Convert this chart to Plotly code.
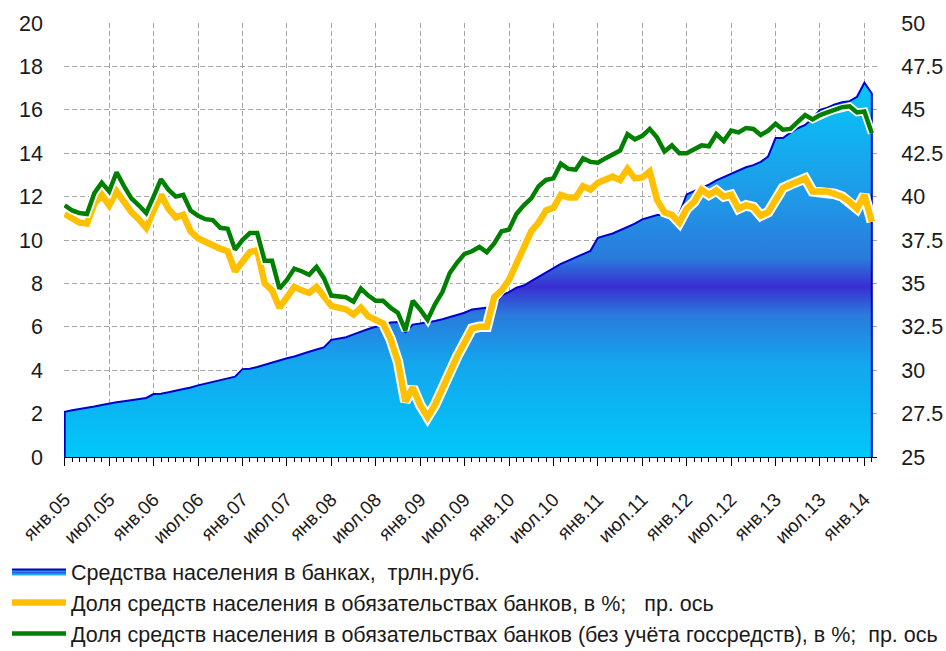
import plotly.graph_objects as go

# ---- data ----
tick_labels = ["янв.05", "июл.05", "янв.06", "июл.06", "янв.07", "июл.07", "янв.08",
               "июл.08", "янв.09", "июл.09", "янв.10", "июл.10", "янв.11", "июл.11",
               "янв.12", "июл.12", "янв.13", "июл.13", "янв.14"]

# household deposits, trn rub (left axis), monthly Jan-05 .. Feb-14
deposits = [2.08, 2.15, 2.20, 2.27, 2.33, 2.40, 2.47, 2.52, 2.57, 2.62, 2.67, 2.72,
            2.90, 2.92, 2.98, 3.05, 3.12, 3.20, 3.30, 3.38, 3.45, 3.52, 3.60, 3.70,
            4.05, 4.07, 4.15, 4.25, 4.37, 4.47, 4.55, 4.63, 4.75, 4.85, 4.95, 5.05,
            5.40, 5.45, 5.52, 5.65, 5.78, 5.90, 6.00, 6.08, 6.20, 6.22, 5.75, 6.10,
            6.15, 6.20, 6.27, 6.35, 6.45, 6.55, 6.65, 6.80, 6.85, 6.88, 6.92, 7.45,
            7.60, 7.80, 7.90, 8.10, 8.30, 8.50, 8.70, 8.90, 9.05, 9.20, 9.35, 9.50,
            10.10, 10.20, 10.30, 10.45, 10.60, 10.75, 10.95, 11.05, 11.15, 11.15, 11.15, 11.20,
            12.10, 12.25, 12.40, 12.55, 12.75, 12.90, 13.05, 13.20, 13.35, 13.45, 13.60, 13.85,
            14.70, 14.70, 14.95, 15.15, 15.30, 15.60, 16.00, 16.10, 16.25, 16.35, 16.40, 16.60,
            17.25, 16.75]

# share of household funds in bank liabilities, % (right axis)
share = [39.0, 38.7, 38.5, 38.45, 39.6, 40.1, 39.5, 40.3, 39.7, 39.1, 38.7, 38.2,
         39.2, 40.1, 39.3, 38.8, 38.95, 38.0, 37.6, 37.35, 37.2, 37.0, 36.85, 35.7,
         36.2, 36.8, 36.9, 35.0, 34.6, 33.6, 34.2, 34.8, 34.6, 34.45, 34.8, 34.3,
         33.7, 33.6, 33.5, 33.2, 33.6, 33.1, 32.9, 32.7, 31.8, 30.5, 28.2, 29.0,
         28.0, 27.3, 28.0, 29.0, 30.0, 30.8, 31.6, 32.4, 32.5, 32.5, 34.2, 34.6,
         35.2, 36.2, 37.2, 38.0, 38.5, 39.2, 39.35, 40.1, 39.95, 39.95, 40.6, 40.4,
         40.8, 41.0, 41.15, 40.95, 41.6, 41.05, 41.1, 41.45, 39.8, 39.1, 38.95, 38.5,
         39.3, 39.7, 40.4, 40.1, 40.35, 40.0, 40.1, 39.3, 39.5, 39.4, 38.9, 39.1,
         39.8, 40.5, 40.7, 40.85, 41.05, 40.3, 40.3, 40.3, 40.15, 40.0, 39.7, 39.3,
         40.1, 38.55]

# same share excluding state funds, % (right axis)
share_ex = [39.5, 39.2, 39.05, 39.0, 40.2, 40.8, 40.3, 41.4, 40.6, 39.9, 39.5, 39.05,
            40.0, 41.0, 40.4, 40.0, 40.1, 39.2, 38.9, 38.7, 38.65, 38.2, 38.15, 36.95,
            37.5, 37.9, 37.9, 36.3, 36.3, 34.7, 35.2, 35.85, 35.7, 35.5, 35.95, 35.3,
            34.3, 34.25, 34.2, 33.95, 34.7, 34.3, 34.0, 34.0, 33.6, 33.3, 32.3, 34.0,
            33.5, 32.9, 33.8, 34.5, 35.6, 36.2, 36.7, 36.85, 37.1, 36.8, 37.3, 38.0,
            38.1, 39.0, 39.5, 39.9, 40.6, 40.96, 41.05, 41.9, 41.6, 41.55, 42.2, 42.0,
            41.95, 42.2, 42.4, 42.65, 43.6, 43.3, 43.5, 43.9, 43.4, 42.6, 42.95, 42.5,
            42.5, 42.7, 42.95, 42.9, 43.6, 43.2, 43.8, 43.7, 43.95, 43.9, 43.55, 43.8,
            44.2, 43.85, 43.9, 44.3, 44.7, 44.45, 44.7, 44.85, 45.0, 45.15, 45.2, 44.85,
            44.9, 43.65]

names = ["Средства населения в банках,  трлн.руб.",
         "Доля средств населения в обязательствах банков, в %;   пр. ось",
         "Доля средств населения в обязательствах банков (без учёта госсредств), в %;  пр. ось"]

# ---- figure ----
n = len(deposits)
x = list(range(n))
tick_pos = list(range(0, 6 * len(tick_labels), 6))

# area with closed left/right edges (outline drawn like the original)
xa = [x[0]] + x + [x[-1]]
ya = [0] + deposits + [0]

FONT = "Liberation Sans, Arial, sans-serif"

fig = go.Figure()
fig.add_trace(go.Scatter(
    x=xa, y=ya, mode="lines", fill="tozeroy", name=names[0], legendgroup="g1",
    line=dict(color="#0000CC", width=2),
    fillgradient=dict(type="vertical", start=0, stop=max(deposits),
                      colorscale=[[0.0, "#00C8F8"], [0.25, "#14A6EE"], [0.38, "#2A7ADC"],
                                  [0.455, "#3A2ED2"], [0.53, "#2A7ADC"], [0.7, "#1E9AE8"],
                                  [1.0, "#06C6F6"]]),
    hoverinfo="skip"))

fig.add_trace(go.Scatter(x=x, y=share, yaxis="y2", mode="lines", showlegend=False,
                         line=dict(color="white", width=10.5), hoverinfo="skip"))
fig.add_trace(go.Scatter(x=x, y=share, yaxis="y2", mode="lines", name=names[1],
                         legendgroup="g2", line=dict(color="#FFC000", width=6.5)))
fig.add_trace(go.Scatter(x=x, y=share_ex, yaxis="y2", mode="lines", showlegend=False,
                         line=dict(color="white", width=8), hoverinfo="skip"))
fig.add_trace(go.Scatter(x=x, y=share_ex, yaxis="y2", mode="lines", name=names[2],
                         legendgroup="g3", line=dict(color="#008000", width=4.5)))

grid = dict(showgrid=True, gridcolor="#A6A6A6", gridwidth=1, griddash="5px,3px")

fig.update_layout(
    template="none",
    width=946, height=651,
    margin=dict(l=64, r=69, t=23, b=194, pad=0, autoexpand=False),
    paper_bgcolor="white", plot_bgcolor="white",
    font=dict(family=FONT, size=21, color="#1a1a1a"),
    showlegend=True,
    legend=dict(x=(7 - 64) / 813, y=-(551 - 457) / 434,
                xanchor="left", yanchor="top", traceorder="normal",
                font=dict(family=FONT, size=21.5, color="#1a1a1a"),
                tracegroupgap=19, itemwidth=54, bgcolor="rgba(0,0,0,0)",
                borderwidth=0),
    xaxis=dict(range=[-0.1, 109.7], tickmode="array", tickvals=tick_pos,
               ticktext=tick_labels, automargin=False,
               tickangle=-45, tickfont=dict(size=19), ticks="outside", ticklen=8,
               ticklabelstandoff=15,
               tickcolor="black", showline=True, linecolor="black", linewidth=1,
               zeroline=False,
               minor=dict(tickmode="array", tickvals=x, ticks="outside", ticklen=4,
                          tickcolor="black", showgrid=False),
               **grid),
    yaxis=dict(range=[0, 20], dtick=2, zeroline=False, showline=False, ticks="",
               automargin=False, tickfont=dict(size=21.5), ticklabelstandoff=20,
               **grid),
    yaxis2=dict(range=[25, 50], dtick=2.5, overlaying="y", side="right",
                showgrid=False, zeroline=False, showline=False,
                ticks="outside", ticklen=19, tickcolor="rgba(0,0,0,0)",
                automargin=False, tickfont=dict(size=21.5)),
)

fig.write_html("out.html", config={"displayModeBar": False},
               post_script="document.body.style.margin='0';")
